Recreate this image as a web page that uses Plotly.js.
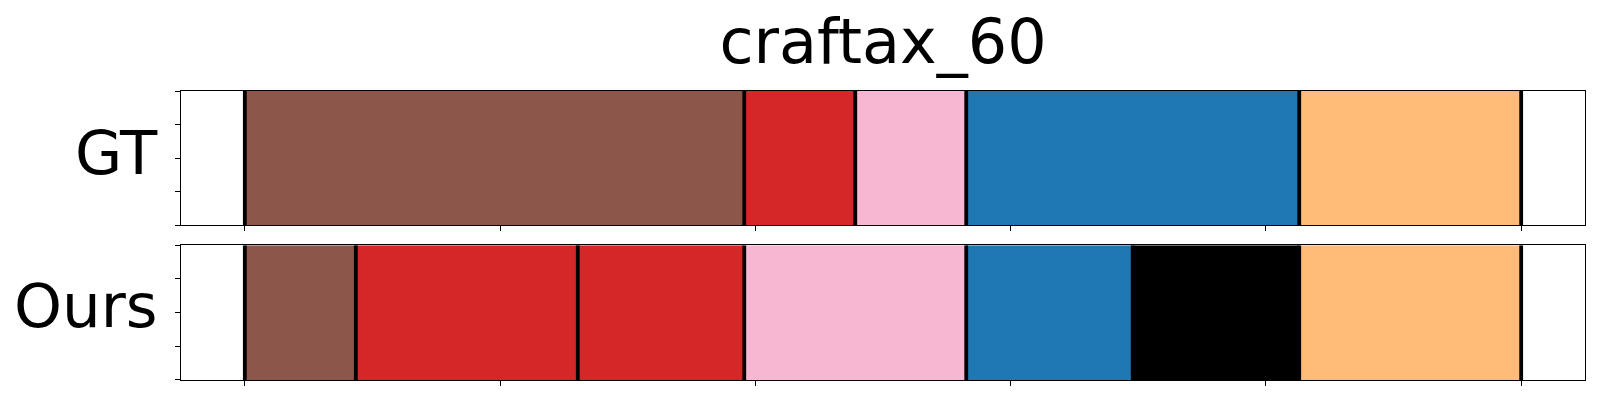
<!DOCTYPE html>
<html>
<head>
<meta charset="utf-8">
<script src="https://cdn.plot.ly/plotly-3.0.1.min.js"></script>
<style>html,body{margin:0;padding:0;background:#fff;}#chart{width:1600px;height:400px;}</style>
</head>
<body>
<div id="chart"></div>
<script>
// ---- data ----
const chartTitle = 'craftax_60';
const rowNames = ['GT', 'Ours'];
const totalSteps = 23;
const gtBounds = [0, 9, 11, 13, 19, 23];
const gtLabels = ['brown', 'red', 'pink', 'blue', 'orange'];
const oursBounds = [0, 2, 6, 9, 13, 16, 19, 23];
const oursLabels = ['brown', 'red', 'red', 'pink', 'blue', 'black', 'orange'];
const xTickVals = [0, 0.2, 0.4, 0.6, 0.8, 1.0];
const yTickVals = [0, 0.25, 0.5, 0.75, 1.0];

// ---- styles ----
const palette = {
  brown: '#8c564b', red: '#d62728', pink: '#f7b6d2',
  blue: '#1f77b4', orange: '#ffbb78', black: '#000000'
};

function segTraces(bounds, labels, xa, ya) {
  const base = [], len = [], ys = [], cols = [];
  for (let i = 0; i < labels.length; i++) {
    base.push(bounds[i] / totalSteps);
    len.push((bounds[i + 1] - bounds[i]) / totalSteps);
    ys.push(0.5);
    cols.push(palette[labels[i]]);
  }
  const bar = {
    type: 'bar', orientation: 'h', base: base, x: len, y: ys, width: 1,
    marker: {color: cols, line: {width: 0}},
    xaxis: xa, yaxis: ya, hoverinfo: 'skip', showlegend: false
  };
  const lx = [], ly = [];
  bounds.forEach(b => { lx.push(b / totalSteps, b / totalSteps, null); ly.push(0, 1, null); });
  const lines = {
    type: 'scatter', mode: 'lines', x: lx, y: ly,
    line: {color: '#000', width: 3.8}, cliponaxis: false,
    xaxis: xa, yaxis: ya, hoverinfo: 'skip', showlegend: false
  };
  return [bar, lines];
}

const data = [
  ...segTraces(gtBounds, gtLabels, 'x', 'y'),
  ...segTraces(oursBounds, oursLabels, 'x2', 'y2')
];

const xCommon = {
  range: [-0.05, 1.05], showgrid: false, zeroline: false,
  showline: true, mirror: true, linecolor: '#000', linewidth: 1.2,
  ticks: 'outside', ticklen: 5, tickwidth: 1, tickcolor: '#000',
  tickvals: xTickVals, showticklabels: false, fixedrange: true
};
const yCommon = {
  range: [0, 1], showgrid: false, zeroline: false,
  showline: true, mirror: true, linecolor: '#000', linewidth: 1.2,
  ticks: 'outside', ticklen: 5, tickwidth: 1, tickcolor: '#000',
  tickvals: yTickVals, showticklabels: false, fixedrange: true
};

const font = 'DejaVu Sans, sans-serif';
const layout = {
  width: 1600, height: 400,
  margin: {l: 181, r: 15, t: 91, b: 20, pad: 0},
  paper_bgcolor: '#fff', plot_bgcolor: '#fff',
  title: {
    text: chartTitle, font: {family: font, size: 62, color: '#000'},
    xref: 'paper', x: 0.5, xanchor: 'center',
    yref: 'container', y: 1 - 41 / 400, yanchor: 'middle'
  },
  xaxis: Object.assign({}, xCommon, {anchor: 'y', domain: [0, 1]}),
  xaxis2: Object.assign({}, xCommon, {anchor: 'y2', domain: [0, 1], matches: 'x'}),
  yaxis: Object.assign({}, yCommon, {anchor: 'x', domain: [0.5353, 1]}),
  yaxis2: Object.assign({}, yCommon, {anchor: 'x2', domain: [0, 0.4661]}),
  showlegend: false,
  annotations: [
    {text: rowNames[0], xref: 'paper', x: 0, xanchor: 'right', xshift: -21,
     yref: 'y domain', y: 0.5, yanchor: 'middle', yshift: 6, showarrow: false,
     font: {family: font, size: 61, color: '#000'}},
    {text: rowNames[1], xref: 'paper', x: 0, xanchor: 'right', xshift: -21,
     yref: 'y2 domain', y: 0.5, yanchor: 'middle', yshift: 7, showarrow: false,
     font: {family: font, size: 61, color: '#000'}}
  ]
};

Plotly.newPlot('chart', data, layout, {displayModeBar: false, staticPlot: true});
</script>
</body>
</html>
